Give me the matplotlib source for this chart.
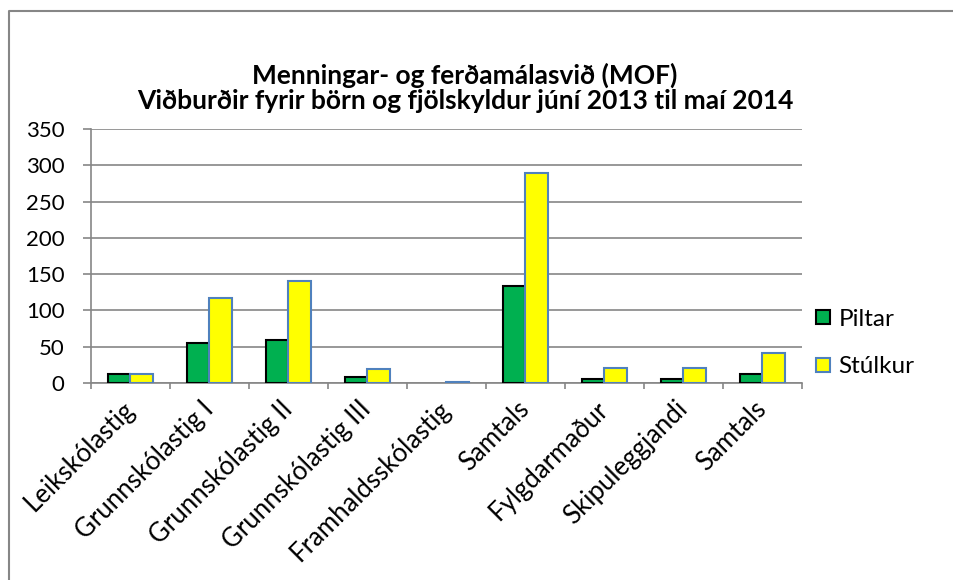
import numpy as np
import matplotlib.pyplot as plt
from matplotlib.lines import Line2D

categories = ['Leikskólastig', 'Grunnskólastig I', 'Grunnskólastig II', 'Grunnskólastig III',
              'Framhaldsskólastig', 'Samtals', 'Fylgdarmaður', 'Skipuleggjandi', 'Samtals']
piltar = [13, 55, 59, 8, 0, 134, 6, 6, 13]
stulkur = [13, 117, 140, 19, 2, 290, 20, 21, 41]
yticks = [0, 50, 100, 150, 200, 250, 300, 350]
title = 'Menningar- og ferðamálasvið (MOF)\nViðburðir fyrir börn og fjölskyldur júní 2013 til maí 2014'

plt.rcParams['font.family'] = ['Lato', 'DejaVu Sans']


def main() -> None:
    fig = plt.figure(figsize=(9.54, 5.8), dpi=100)
    ax = fig.add_axes([91 / 954, 1 - 383 / 580, 711 / 954, 254 / 580])

    x = np.arange(len(categories))
    w = 0.286
    # excel draws nothing for a zero bar, so drop the outline there
    lw_p = [1.5 if v else 0 for v in piltar]
    lw_s = [1.5 if v else 0 for v in stulkur]
    ax.bar(x - w / 2, piltar, w, color='#00B050', edgecolor='black', linewidth=lw_p, zorder=3, label='Piltar')
    ax.bar(x + w / 2, stulkur, w, color='#FFFF00', edgecolor='#4F81BD', linewidth=lw_s, zorder=3, label='Stúlkur')

    ax.set_xlim(-0.5, len(categories) - 0.5)
    ax.set_ylim(0, 350)
    ax.set_yticks(yticks)
    ax.set_yticklabels([str(v) for v in yticks], fontsize=16)
    ax.yaxis.grid(True, color='#868686', linewidth=1.2, zorder=0)

    # category boundary ticks, labels at centres
    ax.set_xticks(np.arange(len(categories) + 1) - 0.5)
    ax.set_xticklabels([])
    ax.set_xticks(x, minor=True)
    ax.set_xticklabels(categories, minor=True, rotation=45, ha='right', va='center',
                       rotation_mode='anchor', fontsize=18.5)
    ax.tick_params(axis='x', which='minor', length=0, pad=16)
    ax.tick_params(axis='x', which='major', length=4, color='#868686', width=1.2)
    ax.tick_params(axis='y', length=6, color='#868686', width=1.2, pad=13)

    for s in ['top', 'right']:
        ax.spines[s].set_visible(False)
    for s in ['left', 'bottom']:
        ax.spines[s].set_color('#868686')
        ax.spines[s].set_linewidth(1.2)

    handles = [
        Line2D([], [], marker='s', linestyle='none', markersize=9.5, markerfacecolor='#00B050',
               markeredgecolor='black', markeredgewidth=1.5),
        Line2D([], [], marker='s', linestyle='none', markersize=9.5, markerfacecolor='#FFFF00',
               markeredgecolor='#4F81BD', markeredgewidth=1.5),
    ]
    fig.legend(handles, ['Piltar', 'Stúlkur'], loc='center left', bbox_to_anchor=(814 / 954, 1 - 343 / 580),
               frameon=False, fontsize=17.5, labelspacing=1.1, handlelength=0.7, handletextpad=0.3,
               borderpad=0, borderaxespad=0)

    fig.text(465 / 954, 1 - 88 / 580, title, ha='center', va='center', fontsize=19,
             fontweight='bold', linespacing=1.05)

    # outer chart border (top and left visible)
    fig.add_artist(Line2D([9 / 954, 9 / 954, 1.0], [0.0, 1 - 11 / 580, 1 - 11 / 580],
                          transform=fig.transFigure, color='#868686', linewidth=1.5))

    fig.savefig('out.png', dpi=100)


if __name__ == '__main__':
    main()
